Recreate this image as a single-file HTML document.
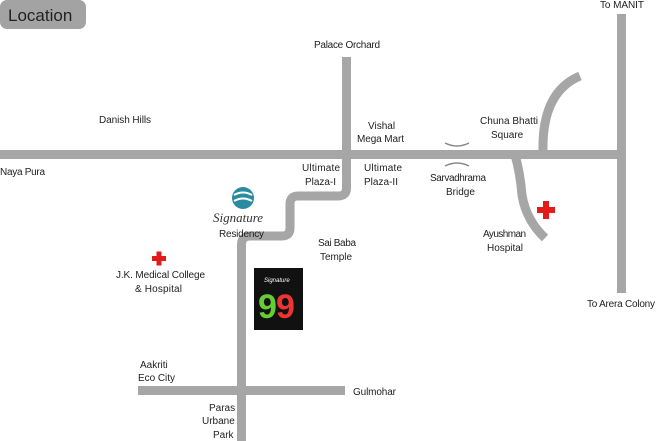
<!DOCTYPE html>
<html><head><style>
body{margin:0;background:#fff}
svg{display:block}
text{font-family:"Liberation Sans",sans-serif;font-size:10px;fill:#222}
</style></head><body>
<svg width="656" height="441" viewBox="0 0 656 441">
<rect x="0" y="0" width="86" height="29" rx="7" fill="#a3a3a3"/>
<text x="8" y="21" style="font-size:17px;fill:#222">Location</text>
<g fill="none" stroke="#a6a6a6" stroke-width="9">
<line x1="0" y1="154.5" x2="626" y2="154.5"/>
<line x1="621.5" y1="14" x2="621.5" y2="293"/>
<path d="M346.5 57 V188 Q346.5 196 338 196 H298 Q290 196 290 204 V228 Q290 236 282 236 H250 Q241.5 236 241.5 245 V441"/>
<line x1="138" y1="390.5" x2="345" y2="390.5"/>
<path d="M580 76 Q542 92 543 150"/>
<path d="M515 155 Q520 172 522 195 Q526 220 545 238"/>
</g>
<g fill="none" stroke="#888" stroke-width="1.5">
<path d="M445 143 Q457 149 469 143"/>
<path d="M445 166 Q457 160 469 166"/>
</g>
<text x="600" y="8" textLength="44">To MANIT</text>
<text x="314" y="48" textLength="66">Palace Orchard</text>
<text x="99" y="123" textLength="52">Danish Hills</text>
<text x="368" y="129">Vishal</text>
<text x="357" y="142" textLength="47">Mega Mart</text>
<text x="480" y="124" textLength="58">Chuna Bhatti</text>
<text x="491" y="138">Square</text>
<text x="0" y="175" textLength="45">Naya Pura</text>
<text x="302" y="171" textLength="38">Ultimate</text>
<text x="305" y="185" textLength="31">Plaza-I</text>
<text x="364" y="171" textLength="38">Ultimate</text>
<text x="364" y="185" textLength="34">Plaza-II</text>
<text x="430" y="181" textLength="56">Sarvadhrama</text>
<text x="446" y="195">Bridge</text>
<text x="483" y="237" textLength="43">Ayushman</text>
<text x="487" y="251" textLength="36">Hospital</text>
<text x="587" y="307" textLength="68">To Arera Colony</text>
<text x="318" y="246" textLength="38">Sai Baba</text>
<text x="320" y="260" textLength="32">Temple</text>
<text x="219" y="237" textLength="45">Residency</text>
<text x="213" y="222" style="font-family:'Liberation Serif',serif;font-style:italic;font-size:13px;fill:#333">Signature</text>
<circle cx="243" cy="198" r="11" fill="#2a8aa0"/>
<path d="M234 195 Q243 190 252 195 M234 201 Q243 196 252 201" stroke="#fff" stroke-width="2" fill="none"/>
<text x="116" y="278" textLength="89">J.K. Medical College</text>
<text x="135" y="292" textLength="47">&amp; Hospital</text>
<text x="140" y="368">Aakriti</text>
<text x="138" y="381" textLength="37">Eco City</text>
<text x="353" y="395" textLength="43">Gulmohar</text>
<text x="209" y="411">Paras</text>
<text x="202" y="424">Urbane</text>
<text x="213" y="438">Park</text>
<rect x="254" y="268" width="49" height="62" fill="#111"/>
<text x="264" y="282" style="font-size:6px;fill:#fff;font-style:italic">Signature</text>
<text x="258" y="318" style="font-size:34px;fill:#6c3;font-weight:bold">9</text>
<text x="276" y="318" style="font-size:34px;fill:#e33;font-weight:bold">9</text>
<g fill="#e21a1a">
<rect x="152" y="256" width="14" height="5"/><rect x="156.5" y="251.5" width="5" height="14"/>
<rect x="537" y="207" width="18" height="6"/><rect x="543" y="201" width="6" height="18"/>
</g>
</svg>
</body></html>
